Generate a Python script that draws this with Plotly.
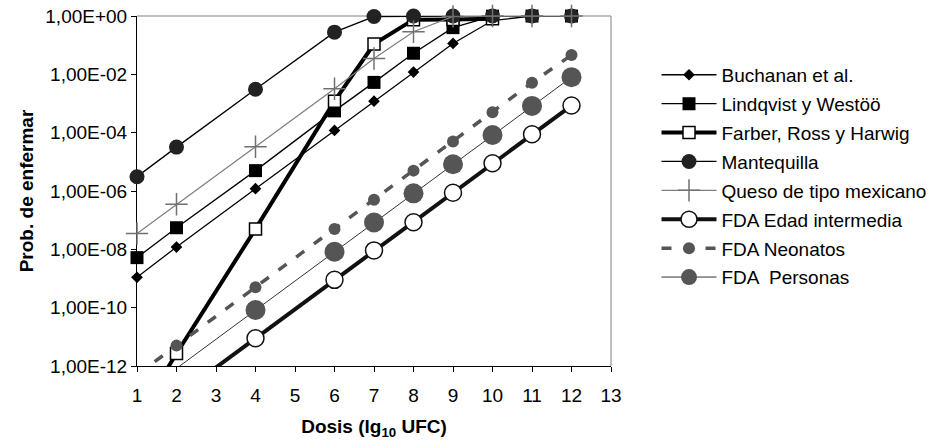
import plotly.graph_objects as go

# ---- data ----
dosis = [1, 2, 4, 6, 7, 8, 9, 10, 11, 12]
buchanan = [1.1e-9, 1.2e-8, 1.2e-6, 1.2e-4, 1.2e-3, 1.2e-2, 0.115, 0.70, 1.0, 1.0]
lindqvist = [5.2e-9, 5.5e-8, 5.0e-6, 5.6e-4, 5.3e-3, 5.3e-2, 0.40, 0.99, 1.0, 1.0]
farber = [1.6e-14, 2.7e-12, 5.0e-8, 1.2e-3, 0.11, 0.75, 0.76, 0.80, None, None]
mantequilla = [3.1e-6, 3.2e-5, 3.1e-3, 0.28, 0.96, 1.0, 1.0, 1.0, 1.0, 1.0]
queso = [3.5e-8, 3.5e-7, 3.3e-5, 3.2e-3, 0.035, 0.29, 0.97, 1.0, 1.0, 1.0]
fda_intermedia = [9e-15, 9e-14, 9e-12, 9e-10, 9.2e-9, 8.5e-8, 8.7e-7, 8.9e-6, 8.8e-5, 8.5e-4]
fda_neonatos = [5e-13, 5e-12, 5e-10, 5e-8, 5e-7, 5e-6, 5e-5, 5e-4, 5.2e-3, 4.6e-2]
fda_personas = [8.3e-14, 8.3e-13, 8.3e-11, 8.3e-9, 8.3e-8, 8.3e-7, 8.3e-6, 8.3e-5, 8.3e-4, 8.0e-3]

x_ticks = list(range(1, 14))
y_tickvals = [1e0, 1e-2, 1e-4, 1e-6, 1e-8, 1e-10, 1e-12]
y_ticktext = ["1,00E+00", "1,00E-02", "1,00E-04", "1,00E-06", "1,00E-08", "1,00E-10", "1,00E-12"]

FONT = "Liberation Sans, Arial, sans-serif"
FS = 19

series = [
    ("Buchanan et al.", buchanan, dict(color="black", width=1.3),
     dict(symbol="diamond", size=9, color="black")),
    ("Lindqvist y Westöö", lindqvist, dict(color="black", width=1.3),
     dict(symbol="square", size=13, color="black")),
    ("Farber, Ross y Harwig", farber, dict(color="black", width=4),
     dict(symbol="square", size=12, color="white", line=dict(color="black", width=1.5))),
    ("Mantequilla", mantequilla, dict(color="black", width=1.3),
     dict(symbol="circle", size=15, color="#222222")),
    ("Queso de tipo mexicano", queso, dict(color="#808080", width=1.3),
     dict(symbol="cross-thin", size=16, color="#707070", line=dict(color="#707070", width=1.5))),
    ("FDA Edad intermedia", fda_intermedia, dict(color="#111111", width=4),
     dict(symbol="circle", size=17, color="white", line=dict(color="#111111", width=1.5))),
    ("FDA Neonatos", fda_neonatos, dict(color="#555555", width=3.5, dash="10px,12px"),
     dict(symbol="circle", size=12, color="#555555")),
    ("FDA  Personas", fda_personas, dict(color="#333333", width=1),
     dict(symbol="circle", size=20, color="#555555")),
]

fig = go.Figure()
for i, (name, vals, line, marker) in enumerate(series):
    fig.add_trace(go.Scatter(
        x=dosis, y=vals, name=name, mode="lines+markers",
        line=line, marker=marker, cliponaxis=False,
        legendgroup=f"g{i}", connectgaps=False,
    ))

fig.update_layout(
    width=939, height=440, autosize=False,
    margin=dict(l=137, r=328, t=16, b=74, autoexpand=False),
    paper_bgcolor="white", plot_bgcolor="white",
    font=dict(family=FONT, size=FS, color="black"),
    showlegend=True,
    legend=dict(x=1.096, y=0.886, xanchor="left", yanchor="top",
                font=dict(family=FONT, size=FS, color="black"),
                tracegroupgap=1.2, itemwidth=55, bgcolor="rgba(0,0,0,0)"),
    xaxis=dict(range=[1, 13], tickvals=x_ticks, ticks="outside", ticklen=5,
               tickcolor="black", showline=True, linecolor="black", linewidth=1,
               showgrid=False, zeroline=False, layer="below traces", automargin=False,
               ticklabelstandoff=7, ticklabeloverflow="allow",
               tickfont=dict(family=FONT, size=FS),
               title=dict(text="<b>Dosis (lg<sub>10</sub> UFC)</b>", standoff=15,
                          font=dict(family=FONT, size=FS))),
    yaxis=dict(type="log", range=[-12, 0.001], tickvals=y_tickvals, ticktext=y_ticktext,
               ticks="outside", ticklen=5, tickcolor="black", showline=True,
               linecolor="black", linewidth=1, showgrid=False, zeroline=False,
               layer="below traces", automargin=False, ticklabeloverflow="allow",
               tickfont=dict(family=FONT, size=FS),
               title=dict(text="<b>Prob. de enfermar</b>", standoff=6,
                          font=dict(family=FONT, size=FS))),
    shapes=[
        dict(type="line", xref="paper", yref="paper", x0=0, x1=1, y0=1, y1=1,
             line=dict(color="#808080", width=1), layer="below"),
        dict(type="line", xref="paper", yref="paper", x0=1, x1=1, y0=0, y1=1,
             line=dict(color="#808080", width=1), layer="below"),
    ],
)

# remove the browser's default 8px body margin so the figure sits at the window's corner
fig.write_html("out.html", config={"displayModeBar": False},
               post_script="document.body.style.margin='0';")
